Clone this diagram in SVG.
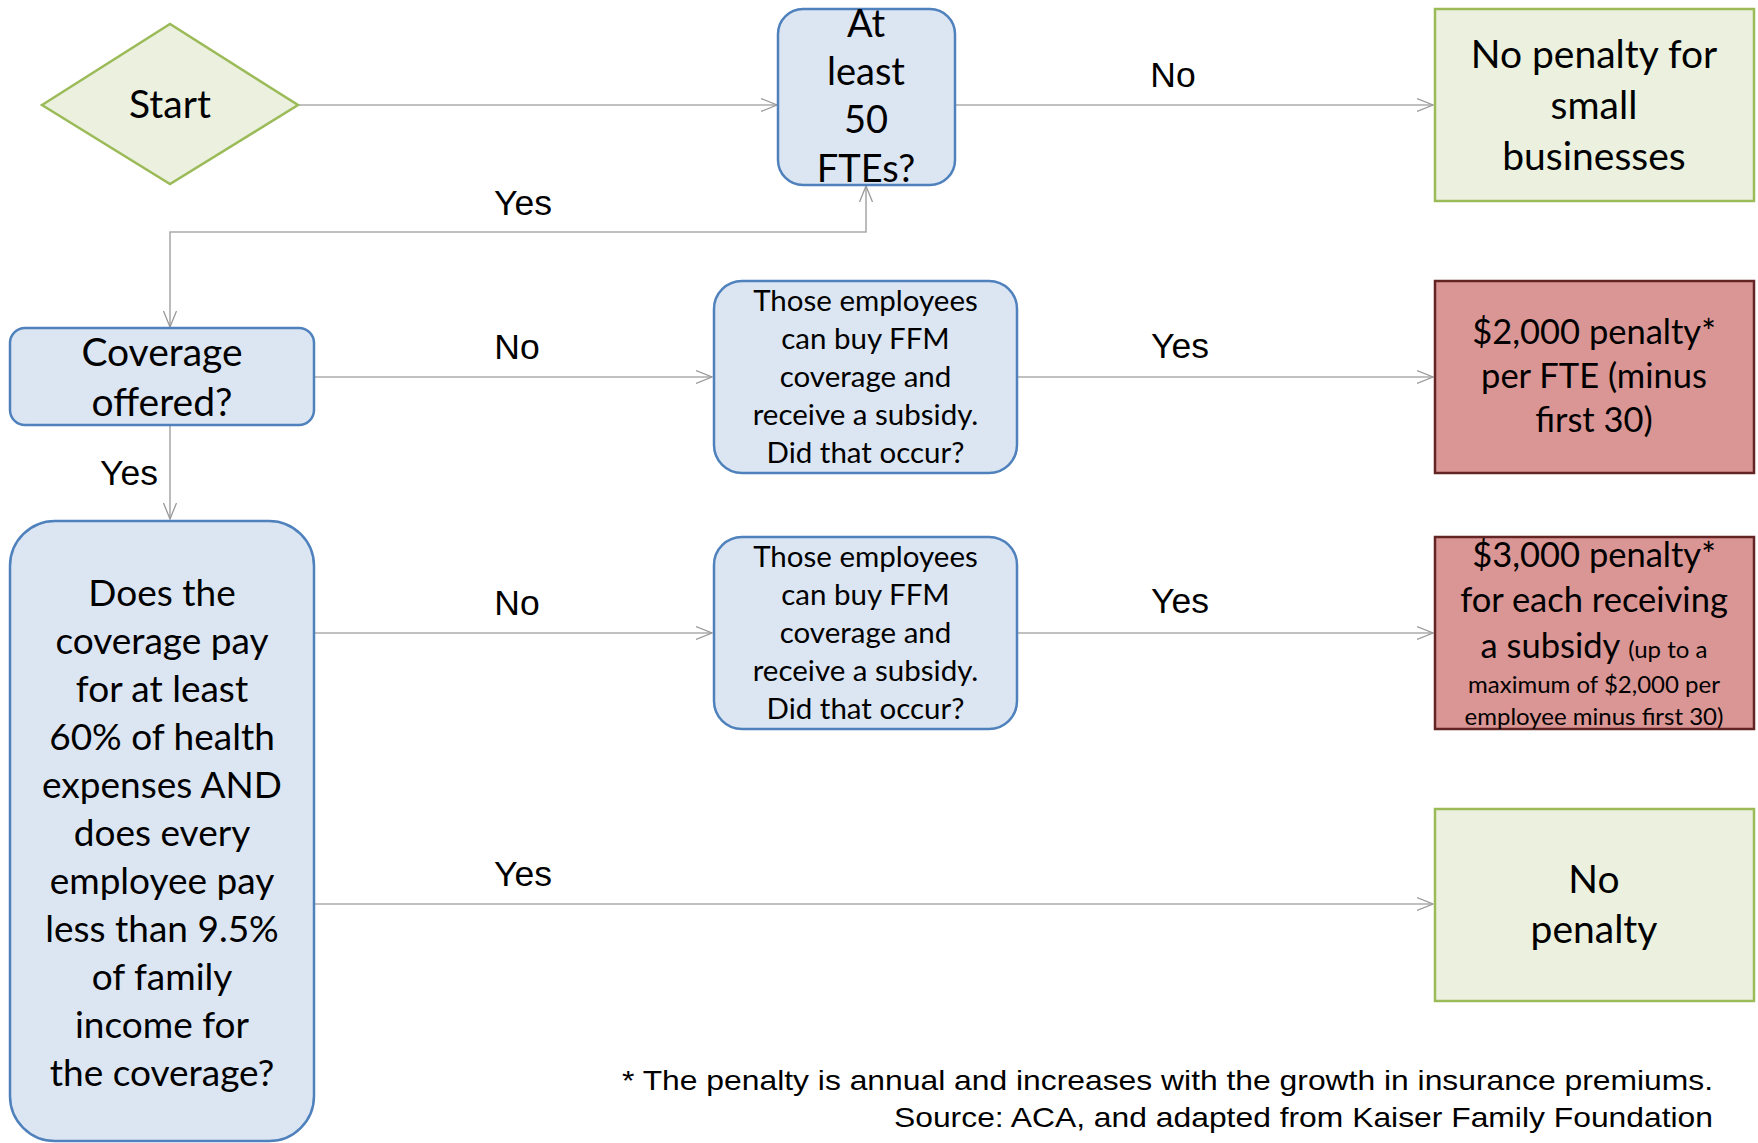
<svg xmlns="http://www.w3.org/2000/svg" width="1758" height="1143" viewBox="0 0 1758 1143">
<defs>
<style>
.blue{fill:#dce6f2;stroke:#4f81bd;stroke-width:2.5}
.green{fill:#ebf1de;stroke:#9bbb59;stroke-width:2.5}
.red{fill:#d99694;stroke:#632523;stroke-width:2.5}
.t{font-family:Lato,"Open Sans",sans-serif;fill:#000;text-anchor:middle}
.lbl{font-family:"Liberation Sans",Arial,sans-serif;font-size:35.5px;fill:#000;text-anchor:middle}
.foot{font-family:"Liberation Sans",Arial,sans-serif;font-size:28.5px;fill:#000}
.conn{fill:none;stroke:#ababab;stroke-width:1.6}
</style>
<marker id="arr" markerUnits="userSpaceOnUse" markerWidth="18" markerHeight="16" refX="16" refY="7" orient="auto-start-reverse" viewBox="0 0 18 14">
<path d="M0,0.5 L16,7 L0,13.5" fill="none" stroke="#999" stroke-width="1.3"/>
</marker>
</defs>
<rect width="1758" height="1143" fill="#fff"/>

<g id="connectors">
<path class="conn" d="M298,105 H777" marker-end="url(#arr)"/>
<path class="conn" d="M955,105 H1433" marker-end="url(#arr)"/>
<path class="conn" d="M866,186 V232 H170 V327" marker-start="url(#arr)" marker-end="url(#arr)"/>
<path class="conn" d="M314,377 H712" marker-end="url(#arr)"/>
<path class="conn" d="M1017,377 H1433" marker-end="url(#arr)"/>
<path class="conn" d="M170,425 V519" marker-end="url(#arr)"/>
<path class="conn" d="M314,633 H712" marker-end="url(#arr)"/>
<path class="conn" d="M1017,633 H1433" marker-end="url(#arr)"/>
<path class="conn" d="M314,904 H1433" marker-end="url(#arr)"/>
<text class="lbl" x="1173" y="87">No</text>
<text class="lbl" x="523" y="215">Yes</text>
<text class="lbl" x="517" y="359">No</text>
<text class="lbl" x="1180" y="358">Yes</text>
<text class="lbl" x="129" y="485">Yes</text>
<text class="lbl" x="517" y="615">No</text>
<text class="lbl" x="1180" y="613">Yes</text>
<text class="lbl" x="523" y="886">Yes</text>
</g>

<g id="start">
<polygon class="green" points="42,105 170,24 298,105 170,184"/>
<text class="t" x="170" y="118" font-size="39">Start</text>
</g>

<g id="fte">
<rect class="blue" x="778" y="9" width="177" height="176" rx="25"/>
<text class="t" x="866" font-size="38"><tspan x="866" y="37">At</tspan><tspan x="866" y="85">least</tspan><tspan x="866" y="133">50</tspan><tspan x="866" y="182">FTEs?</tspan></text>
</g>

<g id="small-biz">
<rect class="green" x="1435" y="9" width="319" height="192"/>
<text class="t" font-size="39"><tspan x="1594" y="68">No penalty for</tspan><tspan x="1594" y="119">small</tspan><tspan x="1594" y="170">businesses</tspan></text>
</g>

<g id="coverage">
<rect class="blue" x="10" y="328" width="304" height="97" rx="15"/>
<text class="t" font-size="39"><tspan x="162" y="366">Coverage</tspan><tspan x="162" y="416">offered?</tspan></text>
</g>

<g id="ffm1">
<rect class="blue" x="714" y="281" width="303" height="192" rx="28"/>
<text class="t" font-size="29.5"><tspan x="865.5" y="311">Those employees</tspan><tspan x="865.5" y="349">can buy FFM</tspan><tspan x="865.5" y="387">coverage and</tspan><tspan x="865.5" y="425">receive a subsidy.</tspan><tspan x="865.5" y="463">Did that occur?</tspan></text>
</g>

<g id="penalty2000">
<rect class="red" x="1435" y="281" width="319" height="192"/>
<text class="t" font-size="34.5"><tspan x="1594" y="344">$2,000 penalty*</tspan><tspan x="1594" y="388">per FTE (minus</tspan><tspan x="1594" y="432">first 30)</tspan></text>
</g>

<g id="affordable">
<rect class="blue" x="10" y="521" width="304" height="620" rx="45"/>
<text class="t" font-size="37"><tspan x="162" y="606">Does the</tspan><tspan x="162" y="654">coverage pay</tspan><tspan x="162" y="702">for at least</tspan><tspan x="162" y="750">60% of health</tspan><tspan x="162" y="798">expenses AND</tspan><tspan x="162" y="846">does every</tspan><tspan x="162" y="894">employee pay</tspan><tspan x="162" y="942">less than 9.5%</tspan><tspan x="162" y="990">of family</tspan><tspan x="162" y="1038">income for</tspan><tspan x="162" y="1086">the coverage?</tspan></text>
</g>

<g id="ffm2">
<rect class="blue" x="714" y="537" width="303" height="192" rx="28"/>
<text class="t" font-size="29.5"><tspan x="865.5" y="567">Those employees</tspan><tspan x="865.5" y="605">can buy FFM</tspan><tspan x="865.5" y="643">coverage and</tspan><tspan x="865.5" y="681">receive a subsidy.</tspan><tspan x="865.5" y="719">Did that occur?</tspan></text>
</g>

<g id="penalty3000">
<rect class="red" x="1435" y="537" width="319" height="192"/>
<text class="t" font-size="34.5"><tspan x="1594" y="567">$3,000 penalty*</tspan><tspan x="1594" y="612">for each receiving</tspan><tspan x="1594" y="658">a subsidy <tspan font-size="24">(up to a</tspan></tspan></text>
<text class="t" font-size="24"><tspan x="1594" y="693">maximum of $2,000 per</tspan><tspan x="1594" y="725">employee minus first 30)</tspan></text>
</g>

<g id="no-penalty">
<rect class="green" x="1435" y="809" width="319" height="192"/>
<text class="t" font-size="39"><tspan x="1594" y="893">No</tspan><tspan x="1594" y="943">penalty</tspan></text>
</g>

<g id="footnote">
<text class="foot" x="622" y="1090" textLength="1091" lengthAdjust="spacingAndGlyphs">* The penalty is annual and increases with the growth in insurance premiums.</text>
<text class="foot" x="894" y="1127" textLength="819" lengthAdjust="spacingAndGlyphs">Source: ACA, and adapted from Kaiser Family Foundation</text>
</g>
</svg>
